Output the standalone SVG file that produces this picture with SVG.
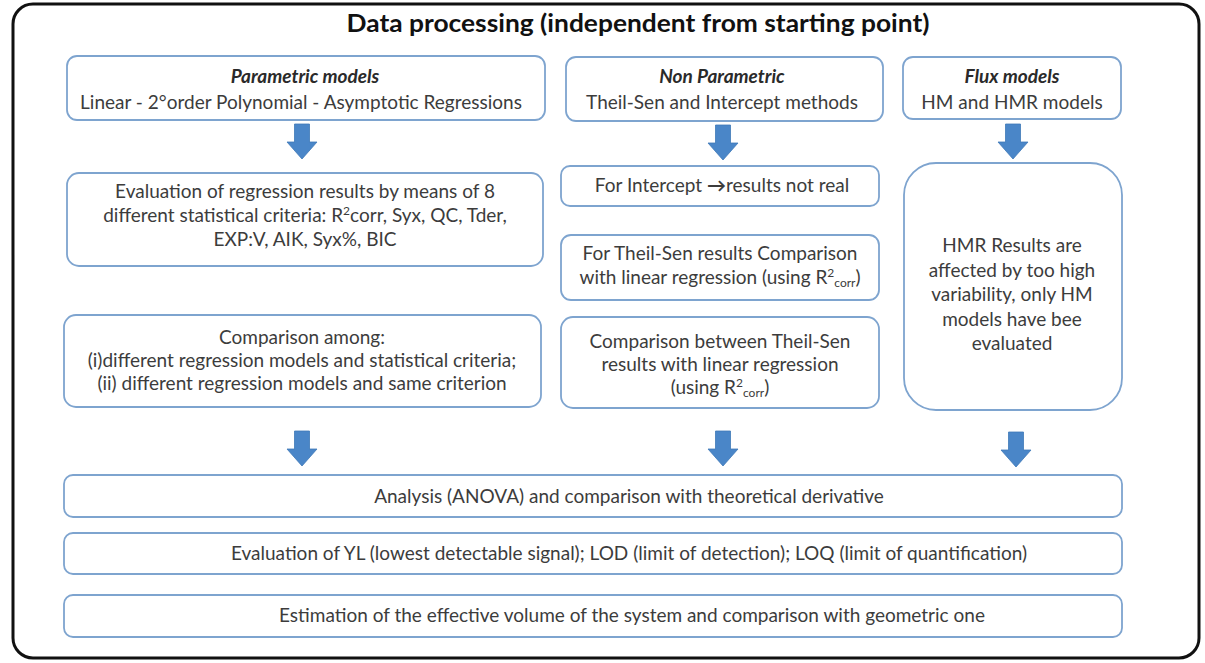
<svg xmlns="http://www.w3.org/2000/svg" xmlns:xlink="http://www.w3.org/1999/xlink" width="1205" height="663" viewBox="0 0 1205 663">
<style>
.frame{fill:#ffffff;stroke:#111111;stroke-width:3}
.box{fill:#ffffff;stroke:#7ea4cf;stroke-width:1.8}
.t{font-family:Lato,"Liberation Sans",sans-serif;font-size:19px;fill:#3c3c3c;text-anchor:middle}
.h{font-weight:bold;font-style:italic;fill:#2a2a2a}
.title{font-family:Lato,"Liberation Sans",sans-serif;font-size:25px;font-weight:bold;fill:#111111;text-anchor:middle}
.arr{fill:#4a86c8;stroke:#3f78b8;stroke-width:0.8}
.s{font-size:12px}
</style>
<defs>
<path id="arr" d="M-7.5,0 H7.5 V18 H15 L0,35 L-15,18 H-7.5 Z"/>
</defs>
<rect width="1205" height="663" fill="#ffffff"/>
<rect class="frame" x="13" y="4" width="1186" height="654" rx="20"/>
<text class="title" x="638" y="32" textLength="583" lengthAdjust="spacingAndGlyphs">Data processing (independent from starting point)</text>

<g id="parametric">
<rect class="box" x="67" y="56" width="478" height="64" rx="10"/>
<text class="t h" x="305" y="83">Parametric models</text>
<text class="t" x="301" y="109">Linear - 2°order Polynomial - Asymptotic Regressions</text>
</g>
<g id="nonparametric">
<rect class="box" x="566" y="57" width="317" height="64" rx="10"/>
<text class="t h" x="722" y="83">Non Parametric</text>
<text class="t" x="722" y="109">Theil-Sen and Intercept methods</text>
</g>
<g id="flux">
<rect class="box" x="903" y="57" width="218" height="62" rx="10"/>
<text class="t h" x="1012" y="83">Flux models</text>
<text class="t" x="1012" y="109">HM and HMR models</text>
</g>
<g id="evaluation">
<rect class="box" x="67" y="173" width="476" height="93" rx="12"/>
<text class="t" x="305" y="198">Evaluation of regression results by means of 8</text>
<text class="t" x="305" y="222">different statistical criteria: R<tspan class="s" dy="-7">2</tspan><tspan dy="7">corr, Syx, QC, Tder,</tspan></text>
<text class="t" x="305" y="246">EXP:V, AIK, Syx%, BIC</text>
</g>
<g id="comparison-among">
<rect class="box" x="64" y="315" width="477" height="92" rx="12"/>
<text class="t" x="302" y="344">Comparison among:</text>
<text class="t" x="302" y="367">(i)different regression models and statistical criteria;</text>
<text class="t" x="302" y="390">(ii) different regression models and same criterion</text>
</g>
<g id="intercept">
<rect class="box" x="561" y="166" width="318" height="40" rx="9"/>
<text class="t" x="722" y="192">For Intercept <tspan font-weight="bold">→</tspan>results not real</text>
</g>
<g id="theilsen">
<rect class="box" x="561" y="235" width="318" height="65" rx="10"/>
<text class="t" x="720" y="260">For Theil-Sen results Comparison</text>
<text class="t" x="720" y="284">with linear regression (using R<tspan class="s" dy="-7">2</tspan><tspan class="s" dy="10">corr</tspan><tspan dy="-3">)</tspan></text>
</g>
<g id="comparison-between">
<rect class="box" x="561" y="317" width="318" height="91" rx="12"/>
<text class="t" x="720" y="348">Comparison between Theil-Sen</text>
<text class="t" x="720" y="371">results with linear regression</text>
<text class="t" x="720" y="394">(using R<tspan class="s" dy="-7">2</tspan><tspan class="s" dy="10">corr</tspan><tspan dy="-3">)</tspan></text>
</g>
<g id="hmr">
<rect class="box" x="904" y="163" width="218" height="247" rx="32"/>
<text class="t" x="1012" y="252">HMR Results are</text>
<text class="t" x="1012" y="276.5">affected by too high</text>
<text class="t" x="1012" y="301">variability, only HM</text>
<text class="t" x="1012" y="325.5">models have bee</text>
<text class="t" x="1012" y="350">evaluated</text>
</g>
<g id="anova">
<rect class="box" x="64" y="475" width="1058" height="42" rx="9"/>
<text class="t" x="629" y="503">Analysis (ANOVA) and comparison with theoretical derivative</text>
</g>
<g id="limits">
<rect class="box" x="64" y="533" width="1058" height="41" rx="9"/>
<text class="t" x="629" y="560">Evaluation of YL (lowest detectable signal); LOD (limit of detection); LOQ (limit of quantification)</text>
</g>
<g id="volume">
<rect class="box" x="64" y="595" width="1058" height="42" rx="9"/>
<text class="t" x="632" y="622">Estimation of the effective volume of the system and comparison with geometric one</text>
</g>
<g id="connectors">
<use class="arr" xlink:href="#arr" x="302" y="124"/>
<use class="arr" xlink:href="#arr" x="723" y="125"/>
<use class="arr" xlink:href="#arr" x="1013" y="124"/>
<use class="arr" xlink:href="#arr" x="302" y="431"/>
<use class="arr" xlink:href="#arr" x="723" y="431"/>
<use class="arr" xlink:href="#arr" x="1016" y="432"/>
</g>
</svg>
